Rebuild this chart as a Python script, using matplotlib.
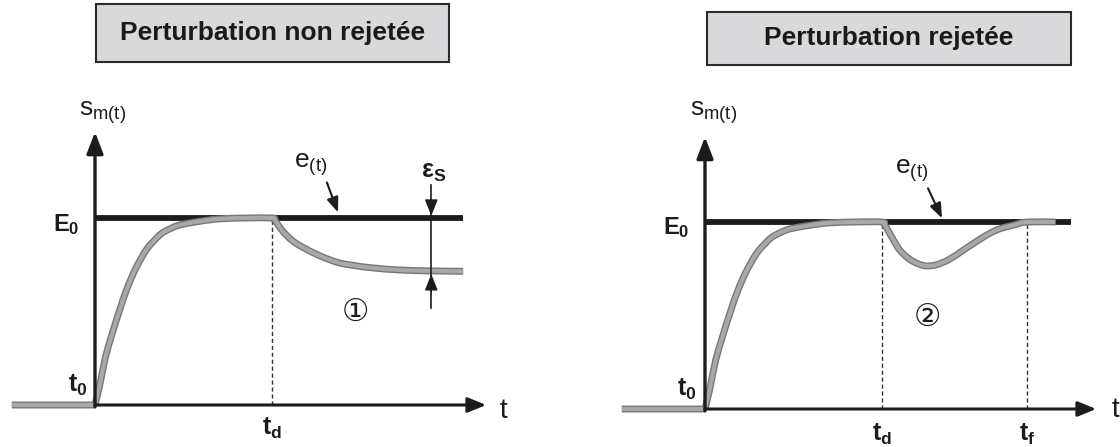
import matplotlib
matplotlib.use("Agg")
import matplotlib.pyplot as plt
from matplotlib.patches import Rectangle, PathPatch
from matplotlib.path import Path

plt.rcParams['font.family'] = ['Liberation Sans', 'DejaVu Sans']
plt.rcParams['mathtext.fontset'] = 'custom'
plt.rcParams['mathtext.rm'] = 'Liberation Sans'
plt.rcParams['mathtext.bf'] = 'Liberation Sans:bold'
plt.rcParams['mathtext.it'] = 'Liberation Sans:italic'
plt.rcParams['mathtext.sf'] = 'Liberation Sans'

# ---------------- data (time units, amplitude E0 = 1) ----------------
titles = ["Perturbation non rejetée", "Perturbation rejetée"]
E0 = 1.0
t_start = -4.7          # start of the grey pre-step segment
t_d = 10.0              # disturbance instant
t_f = 18.2              # end of rejection (panel 2)

rise_t = [0.0, 0.3, 0.6, 1.0, 1.4, 1.8, 2.3, 2.9, 3.4, 3.8, 4.3, 4.8, 5.9, 7.0, 8.5, 10.0]
rise_s = [0.0, 0.12, 0.26, 0.39, 0.51, 0.62, 0.73, 0.83, 0.885, 0.92, 0.945, 0.963, 0.982, 0.995, 1.0, 1.0]

left_after_t = [10.0, 10.15, 10.3, 10.6, 11.2, 12.0, 12.9, 13.8, 14.7, 15.7, 17.2, 19.0, 20.8]
left_after_s = [1.0, 0.99, 0.97, 0.93, 0.875, 0.83, 0.79, 0.76, 0.745, 0.733, 0.722, 0.717, 0.715]
left_end = 20.8
eps_t = 19.0

right_after_t = [10.0, 10.15, 10.4, 10.7, 11.0, 11.5, 12.0, 12.5, 13.1, 13.8, 14.6, 15.4, 16.1, 16.7, 17.5, 18.2, 19.8]
right_after_s = [1.0, 0.985, 0.945, 0.895, 0.85, 0.805, 0.778, 0.765, 0.772, 0.80, 0.85, 0.90, 0.94, 0.965, 0.985, 1.0, 1.0]
right_end = 20.7

axis_t_tip = 22.1
axis_s_tip = [1.46, 1.455]

# ---------------- styles ----------------
BLACK = '#1c1c1c'
GREY_OUT = '#777777'
GREY_IN = '#a8a8a8'

fig = plt.figure(figsize=(11.2, 4.47), dpi=100)
fig.patch.set_facecolor('white')

px_per_t = 17.7
px_per_s = 187.0
origins = [(95.0, 405.0), (705.0, 409.0)]
W, H = 1120.0, 447.0

axes = []
for i, (ox, oy) in enumerate(origins):
    x0 = i * 560.0
    ax = fig.add_axes([x0 / W, 0.0, 560.0 / W, 1.0])
    ax.set_xlim((x0 - ox) / px_per_t, (x0 + 560.0 - ox) / px_per_t)
    ax.set_ylim((oy - H) / px_per_s, oy / px_per_s)
    ax.set_axis_off()
    axes.append(ax)


def smooth_path(t, s):
    """Catmull-Rom curve through the points, rendered as cubic Bezier segments."""
    pts = list(zip(t, s))
    verts = [pts[0]]
    codes = [Path.MOVETO]
    n = len(pts)
    for i in range(n - 1):
        p0 = pts[i - 1] if i > 0 else pts[i]
        p1 = pts[i]
        p2 = pts[i + 1]
        p3 = pts[i + 2] if i + 2 < n else pts[i + 1]
        c1 = (p1[0] + (p2[0] - p0[0]) / 6.0, p1[1] + (p2[1] - p0[1]) / 6.0)
        c2 = (p2[0] - (p3[0] - p1[0]) / 6.0, p2[1] - (p3[1] - p1[1]) / 6.0)
        verts += [c1, c2, p2]
        codes += [Path.CURVE4] * 3
    return Path(verts, codes)


def grey_curve(ax, t, s):
    p = smooth_path(t, s)
    ax.add_patch(PathPatch(p, facecolor='none', edgecolor=GREY_OUT, lw=5.0,
                           capstyle='butt', joinstyle='round', zorder=3))
    ax.add_patch(PathPatch(p, facecolor='none', edgecolor=GREY_IN, lw=3.0,
                           capstyle='butt', joinstyle='round', zorder=3.1))


def draw_axes(ax, s_tip):
    ax.annotate('', xy=(0, s_tip), xytext=(0, -0.01),
                arrowprops=dict(arrowstyle='-|>,head_length=1.3,head_width=0.5', mutation_scale=10,
                                lw=2.4, color=BLACK, shrinkA=0, shrinkB=0), zorder=5)
    ax.annotate('', xy=(axis_t_tip, 0), xytext=(0, 0),
                arrowprops=dict(arrowstyle='-|>,head_length=1.1,head_width=0.45', mutation_scale=10,
                                lw=2.2, color=BLACK, shrinkA=0, shrinkB=0), zorder=5)


def small_arrow(ax, start, tip):
    ax.annotate('', xy=tip, xytext=start,
                arrowprops=dict(arrowstyle='-|>,head_length=0.9,head_width=0.35', mutation_scale=10,
                                lw=1.5, color=BLACK, shrinkA=0, shrinkB=0), zorder=6)


# ---------------- panel 1 ----------------
ax = axes[0]
ax.plot([0, left_end], [E0, E0], color=BLACK, lw=4.2, solid_capstyle='butt', zorder=2)
grey_curve(ax, [t_start, 0], [0, 0])
grey_curve(ax, rise_t + left_after_t[1:], rise_s + left_after_s[1:])
draw_axes(ax, axis_s_tip[0])
ax.plot([t_d, t_d], [0, E0], color='#333333', lw=1.0, ls=(0, (3, 2)), zorder=1)
ax.plot([eps_t, eps_t], [1.176, 0.519], color=BLACK, lw=1.2, zorder=6)
ax.annotate('', xy=(eps_t, 1.012), xytext=(eps_t, 1.1),
            arrowprops=dict(arrowstyle='-|>,head_length=1.0,head_width=0.4', mutation_scale=10,
                            lw=1.0, color=BLACK, shrinkA=0, shrinkB=0), zorder=6)
ax.annotate('', xy=(eps_t, 0.70), xytext=(eps_t, 0.60),
            arrowprops=dict(arrowstyle='-|>,head_length=1.0,head_width=0.4', mutation_scale=10,
                            lw=1.0, color=BLACK, shrinkA=0, shrinkB=0), zorder=6)
small_arrow(ax, (13.1, 1.19), (13.73, 1.03))

ax.text(-0.9, 1.561, r'$\mathrm{s_{m(t)}}$', fontsize=19, ha='left', va='center', color=BLACK)
ax.text(-0.85, 0.963, r'$\mathbf{E_0}$', fontsize=17, ha='right', va='center', color=BLACK)
ax.text(-0.4, 0.107, r'$\mathbf{t_0}$', fontsize=18, ha='right', va='center', color=BLACK)
ax.text(t_d, -0.123, r'$\mathbf{t_d}$', fontsize=18, ha='center', va='center', color=BLACK)
ax.text(23.05, -0.03, 't', fontsize=20, ha='center', va='center', color=BLACK)
ax.text(12.2, 1.283, r'$\mathrm{e_{(t)}}$', fontsize=19, ha='center', va='center', color=BLACK)
ax.text(19.15, 1.246, r'$\mathbf{ε_S}$', fontsize=18, ha='center', va='center', color=BLACK)
ax.text(14.7, 0.497, '①', fontsize=22, ha='center', va='center', color=BLACK,
        family=['DejaVu Sans'])

# ---------------- panel 2 ----------------
ax = axes[1]
ax.plot([0, right_end], [E0, E0], color=BLACK, lw=4.2, solid_capstyle='butt', zorder=2)
grey_curve(ax, [t_start, 0], [0, 0])
grey_curve(ax, rise_t + right_after_t[1:], rise_s + right_after_s[1:])
draw_axes(ax, axis_s_tip[1])
for tv in (t_d, t_f):
    ax.plot([tv, tv], [0, E0], color='#333333', lw=1.0, ls=(0, (3, 2)), zorder=1)
small_arrow(ax, (12.6, 1.18), (13.39, 1.02))

ax.text(-0.85, 1.583, r'$\mathrm{s_{m(t)}}$', fontsize=19, ha='left', va='center', color=BLACK)
ax.text(-0.85, 0.968, r'$\mathbf{E_0}$', fontsize=17, ha='right', va='center', color=BLACK)
ax.text(-0.5, 0.107, r'$\mathbf{t_0}$', fontsize=18, ha='right', va='center', color=BLACK)
ax.text(t_d, -0.135, r'$\mathbf{t_d}$', fontsize=18, ha='center', va='center', color=BLACK)
ax.text(t_f, -0.135, r'$\mathbf{t_f}$', fontsize=18, ha='center', va='center', color=BLACK)
ax.text(23.2, -0.005, 't', fontsize=20, ha='center', va='center', color=BLACK)
ax.text(11.7, 1.273, r'$\mathrm{e_{(t)}}$', fontsize=19, ha='center', va='center', color=BLACK)
ax.text(12.54, 0.49, '②', fontsize=22, ha='center', va='center', color=BLACK,
        family=['DejaVu Sans'])

# ---------------- title boxes ----------------
boxes = [(96, 4, 449, 62), (707, 12, 1071, 65)]
for (bx0, by0, bx1, by1), title in zip(boxes, titles):
    rect = Rectangle((bx0 / W, 1 - by1 / H), (bx1 - bx0) / W, (by1 - by0) / H,
                     transform=fig.transFigure, facecolor='#d9d9dc', edgecolor='#2a2a2a', lw=1.5)
    fig.add_artist(rect)
    fig.text((bx0 + bx1) / 2 / W, 1 - (by0 + by1) / 2 / H, title, fontsize=19, fontweight='bold',
             ha='center', va='center', color='#1a1a1a')

fig.savefig('out.png', dpi=100)
